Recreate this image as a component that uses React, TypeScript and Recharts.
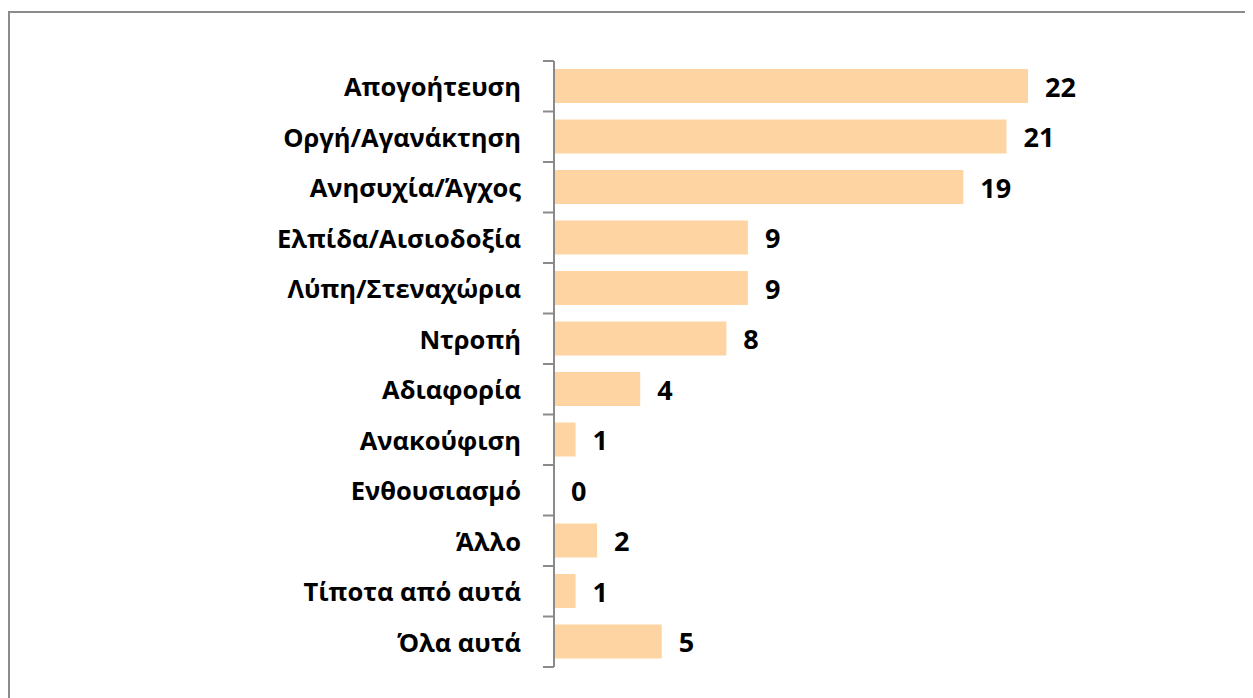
import React from "react";
import { BarChart, Bar, XAxis, YAxis } from "recharts";

const categories = [
  "Απογοήτευση",
  "Οργή/Αγανάκτηση",
  "Ανησυχία/Άγχος",
  "Ελπίδα/Αισιοδοξία",
  "Λύπη/Στεναχώρια",
  "Ντροπή",
  "Αδιαφορία",
  "Ανακούφιση",
  "Ενθουσιασμό",
  "Άλλο",
  "Τίποτα από αυτά",
  "Όλα αυτά",
];
const values = [22, 21, 19, 9, 9, 8, 4, 1, 0, 2, 1, 5];

const data = categories.map((name, i) => ({ name, value: values[i] }));

const FONT = "'Open Sans', 'Noto Sans', sans-serif";
const TICK_SIZE = 11;
const TICK_MARGIN = 22;
const AXIS_COLOR = "#8a8a8a";
const BAR_COLOR = "#FED4A3";

function CategoryTick(props: any) {
  const { x, y, payload, index, visibleTicksCount } = props;
  const half = payload?.offset ?? 25.25;
  const axisX = x + TICK_SIZE + TICK_MARGIN;
  const last = index === (visibleTicksCount ?? categories.length) - 1;
  return (
    <g>
      <line x1={axisX - TICK_SIZE} x2={axisX} y1={y - half} y2={y - half} stroke={AXIS_COLOR} strokeWidth={2} />
      {last && (
        <line x1={axisX - TICK_SIZE} x2={axisX} y1={y + half} y2={y + half} stroke={AXIS_COLOR} strokeWidth={2} />
      )}
      <text x={x} y={y} textAnchor="end" dominantBaseline="central" fontFamily={FONT} fontWeight={700} fontSize={25.5} fill="#000">
        {payload.value}
      </text>
    </g>
  );
}

// bar plus its value, so the zero bar still gets its "0"
function BarWithValue(props: any) {
  const { x, y, width, height, value, payload } = props;
  const w = Math.max(0, Number(width) || 0);
  const v = payload?.value ?? (Array.isArray(value) ? value[1] - value[0] : value);
  return (
    <g>
      {w > 0 && <rect x={x} y={y} width={w} height={height} fill={BAR_COLOR} />}
      <text
        x={Number(x) + w + 17}
        y={Number(y) + Number(height) / 2}
        dominantBaseline="central"
        fontFamily={FONT}
        fontWeight={700}
        fontSize={27}
        fill="#000"
      >
        {v}
      </text>
    </g>
  );
}

export default function App() {
  return (
    <div style={{ paddingTop: 3 }}>
      <div style={{ width: 1237, height: 690, border: "2px solid #8c8c8c", background: "#fff" }}>
        <BarChart
          width={1237}
          height={690}
          data={data}
          layout="vertical"
          margin={{ top: 48, right: 219, bottom: 36, left: 0 }}
          barSize={34}
        >
          <XAxis type="number" domain={[0, 22]} hide />
          <YAxis
            type="category"
            dataKey="name"
            width={544}
            axisLine={{ stroke: AXIS_COLOR, strokeWidth: 2 }}
            tickLine={false}
            tickSize={TICK_SIZE}
            tickMargin={TICK_MARGIN}
            tick={<CategoryTick />}
            interval={0}
          />
          <Bar dataKey="value" fill={BAR_COLOR} isAnimationActive={false} shape={<BarWithValue />} />
        </BarChart>
      </div>
    </div>
  );
}
